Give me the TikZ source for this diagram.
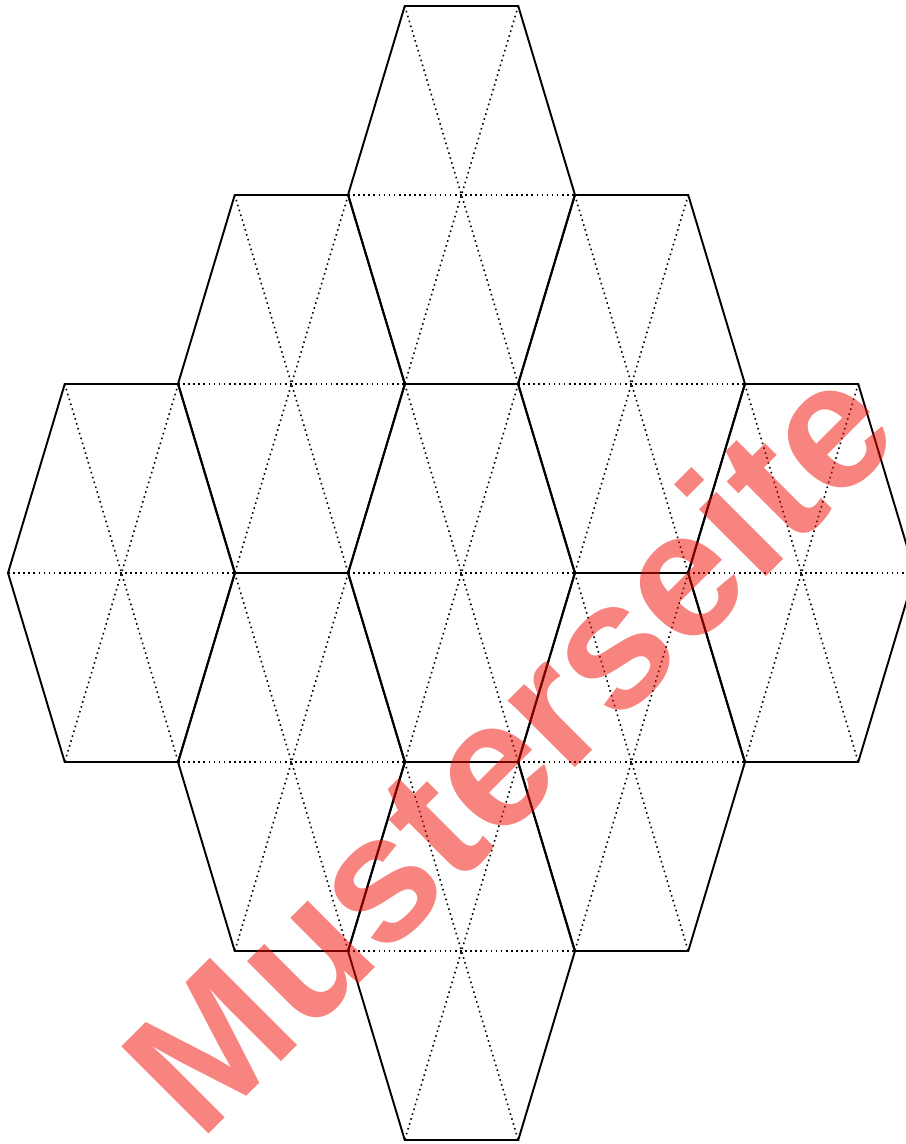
\documentclass[tikz,border=0pt]{standalone}
\usepackage{fontspec}
\setmainfont{Liberation Sans}
\definecolor{stampRed}{RGB}{241,9,0}

\begin{document}
\begin{tikzpicture}[
    x=0.02cm, y=-0.02cm,
    hexline/.style={line width=1.1pt, line join=miter},
    splitline/.style={dotted, line width=0.9pt},
    stamp/.style={font=\fontsize{102}{102}\selectfont\bfseries, text=stampRed,
    text opacity=0.5, rotate=45, inner sep=0pt, anchor=base}
]
\useasboundingbox (0,0) rectangle (906,1144);
\clip (0,0) rectangle (906,1144);
% hexagons, each cut into six triangles
\foreach \cx/\cy in {461.5/195, 291.5/384, 631.5/384, 121.5/573, 461.5/573,
                     801.5/573, 291.5/762, 631.5/762, 461.5/951} {
  \draw[splitline] (\cx-56.75,\cy-189) -- (\cx+56.75,\cy+189);
  \draw[splitline] (\cx+56.75,\cy-189) -- (\cx-56.75,\cy+189);
  \draw[splitline] (\cx-113.5,\cy) -- (\cx+113.5,\cy);
  \draw[hexline] (\cx-56.75,\cy-189) -- (\cx+56.75,\cy-189) -- (\cx+113.5,\cy)
    -- (\cx+56.75,\cy+189) -- (\cx-56.75,\cy+189) -- (\cx-113.5,\cy) -- cycle;
}
% watermark
\node[stamp] (muster) at (553,790) {Musterseite};
\end{tikzpicture}
\end{document}
